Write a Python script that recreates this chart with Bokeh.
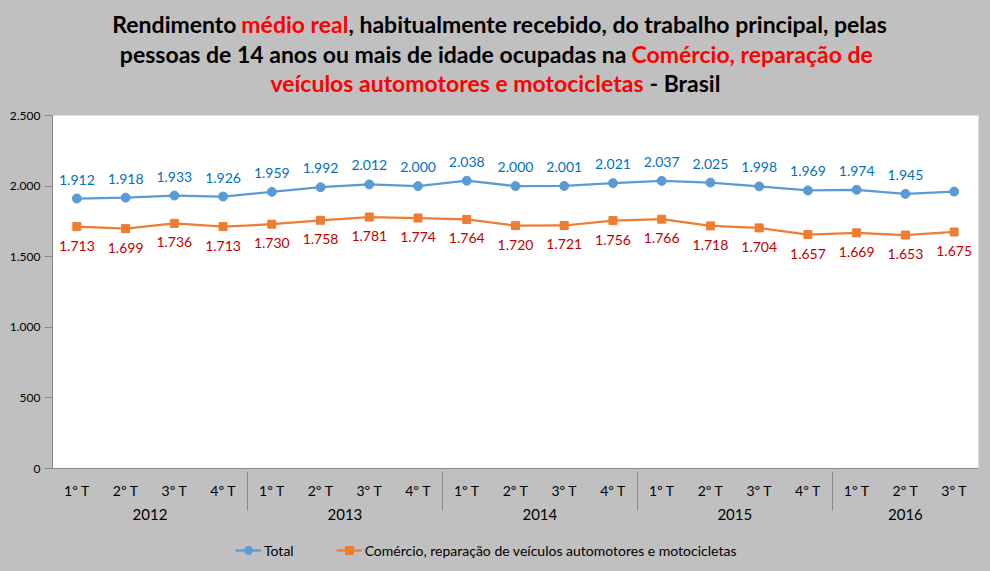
from bokeh.plotting import figure
from bokeh.layouts import column
from bokeh.models import (FactorRange, Range1d, FixedTicker, Legend,
                          LegendItem, ColumnDataSource)
from bokeh.embed import file_html
from bokeh.resources import INLINE
from bokeh.core.properties import value

# ---------------- data ----------------
years = ["2012", "2013", "2014", "2015", "2016"]
quarters = [["1º T", "2º T", "3º T", "4º T"],
            ["1º T", "2º T", "3º T", "4º T"],
            ["1º T", "2º T", "3º T", "4º T"],
            ["1º T", "2º T", "3º T", "4º T"],
            ["1º T", "2º T", "3º T"]]
total = [1912, 1918, 1933, 1926, 1959, 1992, 2012, 2000, 2038, 2000,
         2001, 2021, 2037, 2025, 1998, 1969, 1974, 1945, 1961]
comercio = [1713, 1699, 1736, 1713, 1730, 1758, 1781, 1774, 1764, 1720,
            1721, 1756, 1766, 1718, 1704, 1657, 1669, 1653, 1675]
total_shown = [True] * 18 + [False]
y_ticks = [0, 500, 1000, 1500, 2000, 2500]
series_names = ["Total", "Comércio, reparação de veículos automotores e motocicletas"]
unit_label = "R$"
title_lines = [
    [("Rendimento ", "black"), ("médio real", "red"),
     (", habitualmente recebido, do trabalho principal, pelas", "black")],
    [("pessoas de 14 anos ou mais de idade ocupadas na ", "black"),
     ("Comércio, reparação de", "red")],
    [("veículos automotores e motocicletas", "red"), (" - Brasil", "black")],
]


def br(v):
    return f"{v:,}".replace(",", ".")


FONT = "Lato"
GRAY_BG = "#C0C0C0"
AXIS_C = "#898989"
BLUE = "#5B9BD5"
ORANGE = "#ED7D31"
RED = "#FF0000"
W = 990
TOP_H = 107
LEG_H = 35
FRAME_L, FRAME_R = 52, 978
BG_STYLE = {"background-color": GRAY_BG}

# ---------------- title band ----------------
# its frame is aligned with the chart frame by the column layout
t = figure(width=W, height=TOP_H, x_range=Range1d(FRAME_L, FRAME_R),
           y_range=Range1d(TOP_H, 0),
           output_backend="svg", toolbar_location=None,
           x_axis_type=None, y_axis_type=None,
           background_fill_color=GRAY_BG, border_fill_color=GRAY_BG,
           outline_line_color=None, min_border=0, styles=BG_STYLE)
t.grid.visible = False

seg_pos = [
    [(236, 23, "right"), (348, 23, "right"), (348, 23, "left")],
    [(626, 53, "right"), (631, 53, "left")],
    [(643, 82, "right"), (649, 82, "left")],
]
for line, poss in zip(title_lines, seg_pos):
    for (txt, col), (x, y, al) in zip(line, poss):
        t.text(x=[x], y=[y], text=[txt.strip()], text_align=al,
               text_baseline="middle", text_font=value(FONT),
               text_font_size="23px", text_font_style="bold",
               text_color=RED if col == "red" else "black")

t.text(x=[25], y=[74], text=[unit_label], text_align="left", text_baseline="middle",
       text_font=value(FONT), text_font_size="12px", text_color="black")

# ---------------- chart ----------------
factors = [(y, q) for y, qs in zip(years, quarters) for q in qs]
src = ColumnDataSource(dict(
    x=factors, total=total, comercio=comercio,
    tl=[br(v) if s else "" for v, s in zip(total, total_shown)],
    cl=[br(v) for v in comercio],
))

p = figure(width=W, height=571 - TOP_H - LEG_H,
           x_range=FactorRange(*factors, group_padding=0, subgroup_padding=0,
                               factor_padding=0, range_padding=0),
           y_range=Range1d(0, 2500),
           output_backend="svg", toolbar_location=None,
           background_fill_color="white", border_fill_color=GRAY_BG,
           outline_line_color=None,
           min_border_left=FRAME_L, min_border_right=W - FRAME_R,
           min_border_top=8, min_border_bottom=68, styles=BG_STYLE)

p.xgrid.visible = False
p.ygrid.visible = False

ya = p.yaxis[0]
ya.ticker = FixedTicker(ticks=y_ticks)
ya.major_label_overrides = {v: br(v) for v in y_ticks}
ya.minor_tick_line_color = None
ya.major_tick_in = 0
ya.major_tick_out = 8
ya.major_tick_line_color = AXIS_C
ya.axis_line_color = AXIS_C
ya.major_label_text_font = FONT
ya.major_label_text_font_size = "12px"
ya.major_label_text_color = "black"
ya.major_label_standoff = 4

xa = p.xaxis[0]
xa.major_tick_line_color = None
xa.axis_line_color = AXIS_C
xa.major_label_text_font = FONT
xa.major_label_text_font_size = "14px"
xa.major_label_text_color = "black"
xa.group_text_font = FONT
xa.group_text_font_size = "15px"
xa.group_text_font_style = "normal"
xa.group_text_color = "black"
xa.separator_line_color = AXIS_C
xa.separator_line_width = 1
xa.major_label_standoff = 7

r1l = p.line(x="x", y="total", source=src, line_color=BLUE, line_width=2.25)
r1m = p.scatter(x="x", y="total", source=src, marker="circle", size=9,
                fill_color=BLUE, line_color=BLUE)
r2l = p.line(x="x", y="comercio", source=src, line_color=ORANGE, line_width=2.25)
r2m = p.scatter(x="x", y="comercio", source=src, marker="square", size=8,
                fill_color=ORANGE, line_color=ORANGE)

p.text(x="x", y="total", text="tl", source=src, y_offset=-19,
       text_align="center", text_baseline="middle",
       text_font=value(FONT), text_font_size="14px", text_color="#0070C0")
p.text(x="x", y="comercio", text="cl", source=src, y_offset=19,
       text_align="center", text_baseline="middle",
       text_font=value(FONT), text_font_size="14px", text_color="#C00000")

# ---------------- legend band ----------------
lg = figure(width=W, height=LEG_H, x_range=Range1d(0, 1), y_range=Range1d(0, 1),
            output_backend="svg", toolbar_location=None,
            x_axis_type=None, y_axis_type=None,
            background_fill_color=GRAY_BG, border_fill_color=GRAY_BG,
            outline_line_color=None, min_border=0, styles=BG_STYLE)
lg.grid.visible = False
# legend swatches only (points lie outside the visible range)
off = dict(x=[-5, -4], y=[-5, -4])
e1l = lg.line(line_color=BLUE, line_width=2.25, **off)
e1m = lg.scatter(marker="circle", size=9, fill_color=BLUE, line_color=BLUE, **off)
e2l = lg.line(line_color=ORANGE, line_width=2.25, **off)
e2m = lg.scatter(marker="square", size=8, fill_color=ORANGE, line_color=ORANGE, **off)

legend = Legend(items=[LegendItem(label=series_names[0], renderers=[e1l, e1m]),
                       LegendItem(label=series_names[1], renderers=[e2l, e2m])],
                orientation="horizontal", location=(183, 11),
                background_fill_alpha=0, border_line_color=None,
                label_text_font=FONT, label_text_font_size="14px",
                label_text_color="black", glyph_width=26, label_standoff=3,
                spacing=42, padding=2, margin=0)
lg.add_layout(legend)

layout = column(t, p, lg, spacing=0, styles=BG_STYLE)
open("out.html", "w").write(file_html(layout, INLINE))
